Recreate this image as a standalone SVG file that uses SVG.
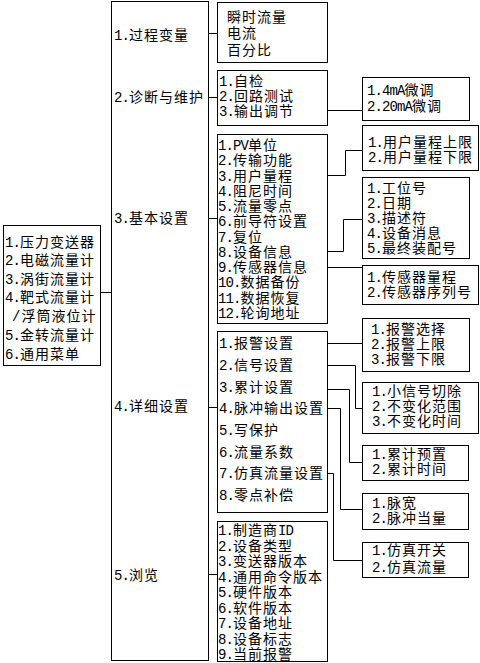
<svg xmlns="http://www.w3.org/2000/svg" width="480" height="663" viewBox="0 0 480 663">
<style>
rect{fill:#fff;stroke:#000;stroke-width:1}
.c{fill:none;stroke:#000;stroke-width:1}
text{font-family:"Liberation Mono","Noto Sans CJK SC",monospace;font-size:14px;letter-spacing:1px;fill:#000}
.n{letter-spacing:-0.9px}
</style>
<rect x="0" y="0" width="480" height="663" style="stroke:none"/>
<g id="connectors">
<path class="c" d="M100.5 292.5H111.5"/>
<path class="c" d="M208.5 33.5H217.5M208.5 97.5H217.5M208.5 218.5H217.5M208.5 407.5H217.5M208.5 574.5H217.5"/>
<path class="c" d="M327.5 110.5H362.5"/>
<polyline class="c" points="327.5,175.5 345.5,175.5 345.5,150.5 362.5,150.5"/>
<polyline class="c" points="327.5,251.5 343.5,251.5 343.5,219.5 362.5,219.5"/>
<path class="c" d="M327.5 267.5H362.5"/>
<path class="c" d="M327.5 343.5H362.5"/>
<polyline class="c" points="327.5,365.5 355.5,365.5 355.5,408.5 362.5,408.5"/>
<polyline class="c" points="327.5,389.5 349.5,389.5 349.5,462.5 362.5,462.5"/>
<polyline class="c" points="327.5,408.5 340.5,408.5 340.5,509.5 362.5,509.5"/>
<polyline class="c" points="327.5,473.5 333.5,473.5 333.5,560.5 362.5,560.5"/>
</g>
<g id="root">
<rect x="3.5" y="225.5" width="97" height="140"/>
<text x="5" y="247"><tspan class="n">1.</tspan>压力变送器</text>
<text x="5" y="265"><tspan class="n">2.</tspan>电磁流量计</text>
<text x="5" y="284"><tspan class="n">3.</tspan>涡街流量计</text>
<text x="5" y="302"><tspan class="n">4.</tspan>靶式流量计</text>
<text x="12" y="321">/浮筒液位计</text>
<text x="5" y="340"><tspan class="n">5.</tspan>金转流量计</text>
<text x="5" y="359"><tspan class="n">6.</tspan>通用菜单</text>
</g>
<g id="menu">
<rect x="111.5" y="1.5" width="97" height="659"/>
<text x="114" y="40"><tspan class="n">1.</tspan>过程变量</text>
<text x="114" y="102"><tspan class="n">2.</tspan>诊断与维护</text>
<text x="114" y="223"><tspan class="n">3.</tspan>基本设置</text>
<text x="114" y="411"><tspan class="n">4.</tspan>详细设置</text>
<text x="114" y="580"><tspan class="n">5.</tspan>浏览</text>
</g>
<g id="process">
<rect x="217.5" y="2.5" width="110" height="60"/>
<text x="227" y="22">瞬时流量</text>
<text x="227" y="38">电流</text>
<text x="227" y="55">百分比</text>
</g>
<g id="diag">
<rect x="217.5" y="70.5" width="110" height="55"/>
<text x="219" y="86"><tspan class="n">1.</tspan>自检</text>
<text x="219" y="101"><tspan class="n">2.</tspan>回路测试</text>
<text x="219" y="116"><tspan class="n">3.</tspan>输出调节</text>
</g>
<g id="trim">
<rect x="362.5" y="77.5" width="107" height="43"/>
<text x="367" y="95"><tspan class="n">1.4mA</tspan>微调</text>
<text x="367" y="111"><tspan class="n">2.20mA</tspan>微调</text>
</g>
<g id="basic">
<rect x="217.5" y="134.5" width="110" height="189"/>
<text x="218" y="150"><tspan class="n">1.PV</tspan>单位</text>
<text x="218" y="165.25"><tspan class="n">2.</tspan>传输功能</text>
<text x="218" y="180.5"><tspan class="n">3.</tspan>用户量程</text>
<text x="218" y="195.75"><tspan class="n">4.</tspan>阻尼时间</text>
<text x="218" y="211"><tspan class="n">5.</tspan>流量零点</text>
<text x="218" y="226.25"><tspan class="n">6.</tspan>前导符设置</text>
<text x="218" y="241.5"><tspan class="n">7.</tspan>复位</text>
<text x="218" y="256.75"><tspan class="n">8.</tspan>设备信息</text>
<text x="218" y="272"><tspan class="n">9.</tspan>传感器信息</text>
<text x="218" y="287.25"><tspan class="n">10.</tspan>数据备份</text>
<text x="218" y="302.5"><tspan class="n">11.</tspan>数据恢复</text>
<text x="218" y="317.75"><tspan class="n">12.</tspan>轮询地址</text>
</g>
<g id="range">
<rect x="362.5" y="125.5" width="116" height="45"/>
<text x="368" y="147"><tspan class="n">1.</tspan>用户量程上限</text>
<text x="368" y="162"><tspan class="n">2.</tspan>用户量程下限</text>
</g>
<g id="devinfo">
<rect x="362.5" y="177.5" width="107" height="81"/>
<text x="367" y="193"><tspan class="n">1.</tspan>工位号</text>
<text x="367" y="208"><tspan class="n">2.</tspan>日期</text>
<text x="367" y="223"><tspan class="n">3.</tspan>描述符</text>
<text x="367" y="238"><tspan class="n">4.</tspan>设备消息</text>
<text x="367" y="253"><tspan class="n">5.</tspan>最终装配号</text>
</g>
<g id="sensor">
<rect x="362.5" y="265.5" width="116" height="39"/>
<text x="367" y="282"><tspan class="n">1.</tspan>传感器量程</text>
<text x="367" y="297"><tspan class="n">2.</tspan>传感器序列号</text>
</g>
<g id="detail">
<rect x="217.5" y="331.5" width="110" height="181"/>
<text x="219" y="348"><tspan class="n">1.</tspan>报警设置</text>
<text x="219" y="370"><tspan class="n">2.</tspan>信号设置</text>
<text x="219" y="392"><tspan class="n">3.</tspan>累计设置</text>
<text x="219" y="413"><tspan class="n">4.</tspan>脉冲输出设置</text>
<text x="219" y="435"><tspan class="n">5.</tspan>写保护</text>
<text x="219" y="457"><tspan class="n">6.</tspan>流量系数</text>
<text x="219" y="478"><tspan class="n">7.</tspan>仿真流量设置</text>
<text x="219" y="500"><tspan class="n">8.</tspan>零点补偿</text>
</g>
<g id="alarm">
<rect x="362.5" y="318.5" width="107" height="53"/>
<text x="371" y="334"><tspan class="n">1.</tspan>报警选择</text>
<text x="371" y="349"><tspan class="n">2.</tspan>报警上限</text>
<text x="371" y="364"><tspan class="n">3.</tspan>报警下限</text>
</g>
<g id="signal">
<rect x="362.5" y="382.5" width="116" height="51"/>
<text x="372" y="396"><tspan class="n">1.</tspan>小信号切除</text>
<text x="372" y="411"><tspan class="n">2.</tspan>不变化范围</text>
<text x="372" y="426"><tspan class="n">3.</tspan>不变化时间</text>
</g>
<g id="total">
<rect x="362.5" y="445.5" width="106" height="35"/>
<text x="372" y="459"><tspan class="n">1.</tspan>累计预置</text>
<text x="372" y="474"><tspan class="n">2.</tspan>累计时间</text>
</g>
<g id="pulse">
<rect x="362.5" y="493.5" width="106" height="36"/>
<text x="372" y="508"><tspan class="n">1.</tspan>脉宽</text>
<text x="372" y="523"><tspan class="n">2.</tspan>脉冲当量</text>
</g>
<g id="sim">
<rect x="362.5" y="542.5" width="106" height="35"/>
<text x="372" y="555"><tspan class="n">1.</tspan>仿真开关</text>
<text x="372" y="572"><tspan class="n">2.</tspan>仿真流量</text>
</g>
<g id="browse">
<rect x="217.5" y="521.5" width="110" height="140"/>
<text x="218" y="535"><tspan class="n">1.</tspan>制造商<tspan class="n">ID</tspan></text>
<text x="218" y="550.5"><tspan class="n">2.</tspan>设备类型</text>
<text x="218" y="566"><tspan class="n">3.</tspan>变送器版本</text>
<text x="218" y="581.5"><tspan class="n">4.</tspan>通用命令版本</text>
<text x="218" y="597"><tspan class="n">5.</tspan>硬件版本</text>
<text x="218" y="612.5"><tspan class="n">6.</tspan>软件版本</text>
<text x="218" y="628"><tspan class="n">7.</tspan>设备地址</text>
<text x="218" y="643.5"><tspan class="n">8.</tspan>设备标志</text>
<text x="218" y="659"><tspan class="n">9.</tspan>当前报警</text>
</g>
</svg>
